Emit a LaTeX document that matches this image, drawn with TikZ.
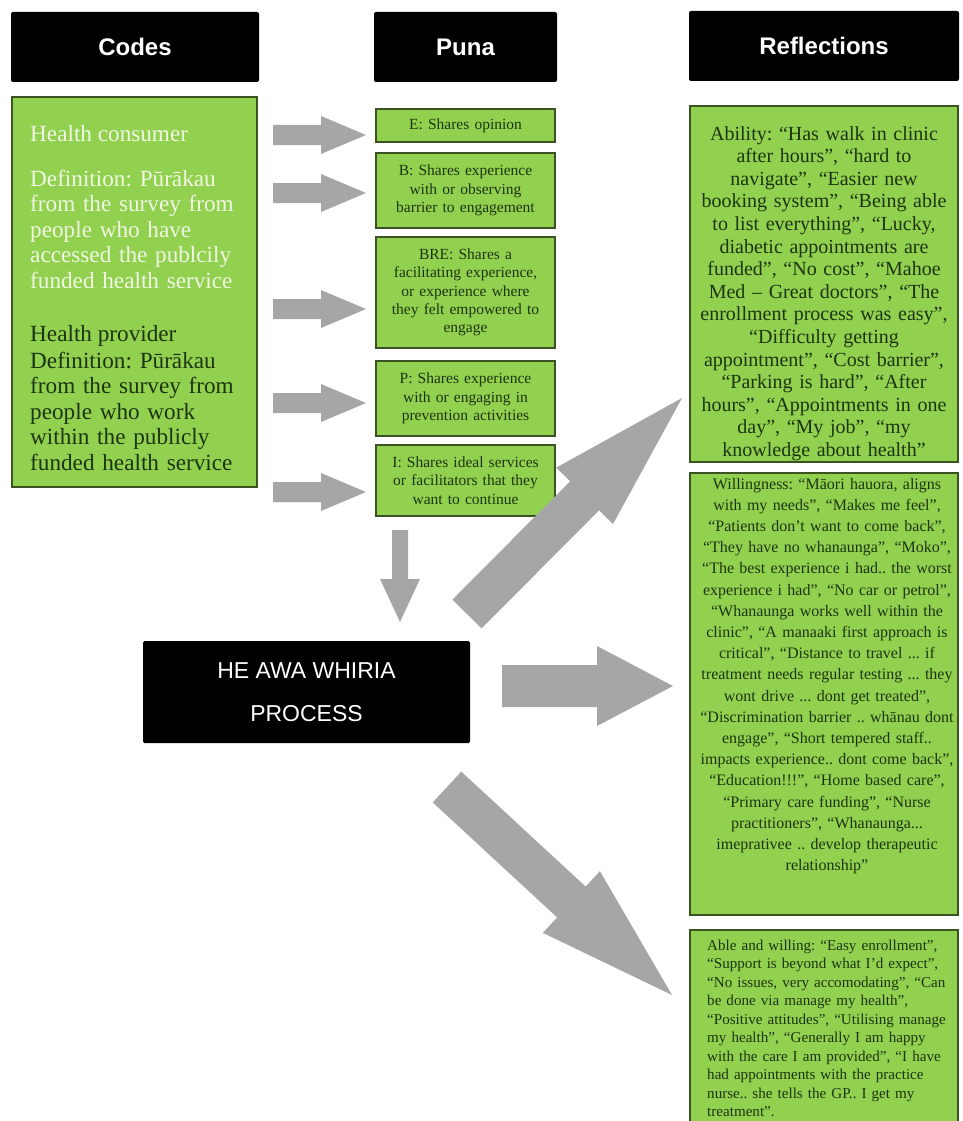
\documentclass[tikz,border=0pt]{standalone}
\usepackage{fontspec}
\setmainfont{Liberation Serif}
\newfontfamily\headfont{Liberation Sans}
\usetikzlibrary{calc}
\definecolor{boxgreen}{HTML}{92D050}
\definecolor{boxline}{HTML}{3B5323}
\definecolor{inkgreen}{HTML}{1C3510}
\definecolor{palegreen}{HTML}{F0F8E2}
\definecolor{arrowgray}{HTML}{A6A6A6}
% block arrow: tail, tip, shaft half width, head half width, head length
\newcommand\blockarr[5]{%
  \coordinate (hb) at ($(#2)!#5!(#1)$);
  \fill[arrowgray] ($(#1)!#3!90:(#2)$) -- ($(hb)!#3!-90:(#1)$) -- ($(hb)!#4!-90:(#1)$) -- (#2)
    -- ($(hb)!#4!90:(#1)$) -- ($(hb)!#3!90:(#1)$) -- ($(#1)!#3!-90:(#2)$) -- cycle;}
\begin{document}
\frenchspacing
\begin{tikzpicture}[x=1pt,y=-1pt,
  header/.style={fill=black, rounded corners=2pt, text=white, inner sep=0pt,
    font=\headfont\bfseries\fontsize{24}{28}\selectfont},
  gbox/.style={fill=boxgreen, draw=boxline, line width=1.6pt, inner sep=0pt},
  punabox/.style={gbox, minimum width=179pt, text=inkgreen, align=center, text width=175pt,
    font=\fontsize{15.5}{18.3}\selectfont},
  codetext/.style={anchor=west, inner sep=0pt, align=left, font=\fontsize{23.2}{25.5}\selectfont},
  refltext/.style={inner sep=0pt, text=inkgreen, align=center, text width=264pt}
]
\useasboundingbox (0,0) rectangle (962,1121);
\clip (0,0) rectangle (962,1121);
\fill[white] (0,0) rectangle (962,1121);

% headers
\node[header, minimum width=248pt, minimum height=70pt] (hcodes) at (135,47) {Codes};
\node[header, minimum width=183pt, minimum height=70pt] (hpuna) at (465.5,47) {Puna};
\node[header, minimum width=270pt, minimum height=70pt] (hrefl) at (824,46) {Reflections};

% codes box
\node[gbox, minimum width=245pt, minimum height=390pt] (codes) at (134.5,292) {};
\node[codetext, text=palegreen] (cons) at (30,134) {Health consumer};
\node[codetext, text=palegreen, text width=220pt] (consdef) at (30,229)
  {Definition: Pūrākau\\from the survey from\\people who have\\accessed the publcily\\funded health service};
\node[codetext, text=inkgreen] (prov) at (30,336) {Health provider};
\node[codetext, text=inkgreen, text width=212pt] (provdef) at (30,411)
  {\makebox[212pt][s]{Definition: Pūrākau}\\\makebox[212pt][s]{from the survey from}\\%
   \makebox[212pt][s]{people who work}\\\makebox[212pt][s]{within the publicly}\\funded health service};

% puna boxes
\node[punabox, minimum height=33pt] (pe) at (465.5,125.5) {E: Shares opinion};
\node[punabox, minimum height=75pt] (pb) at (465.5,190.5) {B: Shares experience\\with or observing\\barrier to engagement};
\node[punabox, minimum height=111pt] (pbre) at (465.5,292.5) {BRE: Shares a\\facilitating experience,\\or experience where\\they felt empowered to\\engage};
\node[punabox, minimum height=75pt] (pp) at (465.5,398.5) {P: Shares experience\\with or engaging in\\prevention activities};
\node[punabox, minimum height=71pt] (pi) at (465.5,480.5) {I: Shares ideal services\\or facilitators that they\\want to continue};

% process box
\node[fill=black, rounded corners=1.5pt, minimum width=327pt, minimum height=102pt, text=white,
  align=center, inner sep=0pt, font=\headfont\fontsize{23}{43}\selectfont] (proc) at (306.5,692)
  {HE AWA WHIRIA\\PROCESS};

% reflection boxes
\node[gbox, minimum width=268pt, minimum height=356pt] (r1) at (824,284) {};
\node[refltext, font=\fontsize{20}{22.6}\selectfont] (r1t) at (824,293.5)
  {Ability: “Has walk in clinic\\after hours”, “hard to\\navigate”, “Easier new\\booking system”, “Being able\\to list everything”, “Lucky,\\diabetic appointments are\\funded”, “No cost”, “Mahoe\\Med – Great doctors”, “The\\enrollment process was easy”,\\“Difficulty getting\\appointment”, “Cost barrier”,\\“Parking is hard”, “After\\hours”, “Appointments in one\\day”, “My job”, “my\\knowledge about health”};
\node[gbox, minimum width=268pt, minimum height=442pt] (r2) at (824,694) {};
\node[refltext, font=\fontsize{16}{21.2}\selectfont] (r2t) at (827,676)
  {Willingness: “Māori hauora, aligns\\with my needs”, “Makes me feel”,\\“Patients don’t want to come back”,\\“They have no whanaunga”, “Moko”,\\“The best experience i had.. the worst\\experience i had”, “No car or petrol”,\\“Whanaunga works well within the\\clinic”, “A manaaki first approach is\\critical”, “Distance to travel ... if\\treatment needs regular testing ... they\\wont drive ... dont get treated”,\\“Discrimination barrier .. whānau dont\\engage”, “Short tempered staff..\\impacts experience.. dont come back”,\\“Education!!!”, “Home based care”,\\“Primary care funding”, “Nurse\\practitioners”, “Whanaunga...\\imeprativee .. develop therapeutic\\relationship”};
\node[gbox, minimum width=268pt, minimum height=220pt] (r3) at (824,1040) {};
\node[inner sep=0pt, text=inkgreen, align=left, text width=246pt, anchor=west,
  font=\fontsize{15.1}{18.5}\selectfont] (r3t) at (707,1028.5)
  {\makebox[246pt][s]{Able and willing: “Easy enrollment”,}\\%
   \makebox[246pt][s]{“Support is beyond what I’d expect”,}\\%
   \makebox[246pt][s]{“No issues, very accomodating”, “Can}\\%
   \makebox[246pt][s]{be done via manage my health”,}\\%
   \makebox[246pt][s]{“Positive attitudes”, “Utilising manage}\\%
   \makebox[246pt][s]{my health”, “Generally I am happy}\\%
   \makebox[246pt][s]{with the care I am provided”, “I have}\\%
   \makebox[246pt][s]{had appointments with the practice}\\%
   \makebox[246pt][s]{nurse.. she tells the GP.. I get my}\\%
   treatment”.};

% arrow end points
\coordinate (a1s) at (273,135); \coordinate (a1e) at (366,135);
\coordinate (a2s) at (273,193); \coordinate (a2e) at (366,193);
\coordinate (a3s) at (273,309); \coordinate (a3e) at (366,309);
\coordinate (a4s) at (273,403); \coordinate (a4e) at (366,403);
\coordinate (a5s) at (273,492); \coordinate (a5e) at (366,492);
\coordinate (dns) at (400,530); \coordinate (dne) at (400,622);
\coordinate (ups) at (467,614); \coordinate (upe) at (682,398);
\coordinate (mds) at (502,686); \coordinate (mde) at (673,686);
\coordinate (lws) at (447,787); \coordinate (lwe) at (672,995);

\blockarr{a1s}{a1e}{10pt}{19pt}{45pt}
\blockarr{a2s}{a2e}{10pt}{19pt}{45pt}
\blockarr{a3s}{a3e}{10pt}{19pt}{45pt}
\blockarr{a4s}{a4e}{10pt}{19pt}{45pt}
\blockarr{a5s}{a5e}{10pt}{19pt}{45pt}
\blockarr{dns}{dne}{8pt}{20pt}{43pt}
\blockarr{ups}{upe}{20.5pt}{40pt}{138pt}
\blockarr{mds}{mde}{21pt}{40pt}{76pt}
\blockarr{lws}{lwe}{21pt}{42pt}{137pt}
\end{tikzpicture}
\end{document}
